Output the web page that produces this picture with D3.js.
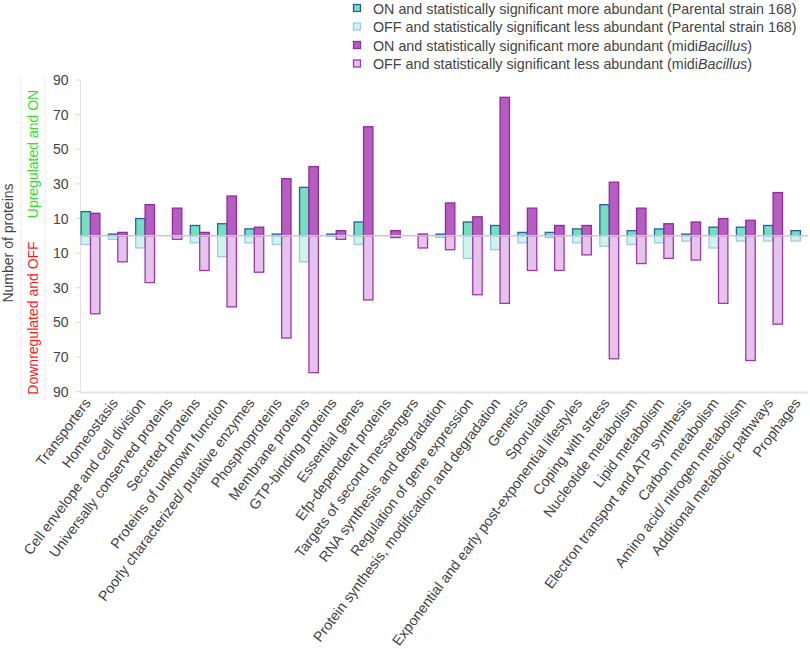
<!DOCTYPE html>
<html><head><meta charset="utf-8">
<script src="https://cdn.jsdelivr.net/npm/d3@7"></script>
<style>body{margin:0;background:#fff;} svg{display:block;font-family:"Liberation Sans",Arial,sans-serif;}</style>
</head><body>
<svg id="c" width="810" height="649"></svg>
<script>
const categories = ["Transporters","Homeostasis","Cell envelope and cell division","Universally conserved proteins","Secreted proteins","Proteins of unknown function","Poorly characterized/ putative enzymes","Phosphoproteins","Membrane proteins","GTP-binding proteins","Essential genes","Efp-dependent proteins","Targets of second messengers","RNA synthesis and degradation","Regulation of gene expression","Protein synthesis, modification and degradation","Genetics","Sporulation","Exponential and early post-exponential lifestyles","Coping with stress","Nucleotide metabolism","Lipid metabolism","Electron transport and ATP synthesis","Carbon metabolism","Amino acid/ nitrogen metabolism","Additional metabolic pathways","Prophages"];
const onParental  = [14,1,10,0,6,7,4,1,28,1,8,0,0,1,8,6,2,2,4,18,3,4,1,5,5,6,3];
const offParental = [5,2,7,0,4,12,4,5,15,0,5,0,0,1,13,8,4,1,4,6,5,4,3,7,3,3,3];
const onMidi      = [13,2,18,16,2,23,5,33,40,3,63,3,1,19,11,80,16,6,6,31,16,7,8,10,9,25,0];
const offMidi     = [45,15,27,2,20,41,21,59,79,2,37,1,7,8,34,39,20,20,11,71,16,13,14,39,72,51,0];
const yTicks = [-90,-70,-50,-30,-10,10,30,50,70,90];
const legendLabels = [
  ["ON and statistically significant more abundant (Parental strain 168)", null],
  ["OFF and statistically significant less abundant (Parental strain 168)", null],
  ["ON and statistically significant more abundant (midi", "Bacillus"],
  ["OFF and statistically significant less abundant (midi", "Bacillus"]
];

const svg = d3.select("#c");
const y = d3.scaleLinear().domain([-90,90]).range([391.7,80]);
const x = d3.scalePoint().domain(categories).range([90.5,800.4]);
const bw = 9.4;
const styles = {
  onP:{fill:"#72dfbf",stroke:"#2b5ca8"},
  offP:{fill:"#cdf6e8",stroke:"#a2c6f3"},
  onM:{fill:"#b55dc1",stroke:"#952a9c"},
  offM:{fill:"#e5c4ec",stroke:"#a236ab"}
};

// faint guide lines
[21,45].forEach(xx=>svg.append("line").attr("x1",xx).attr("x2",xx).attr("y1",76).attr("y2",400).attr("stroke","#ececec").attr("stroke-width",1));

// left axis line
svg.append("line").attr("x1",80.5).attr("x2",80.5).attr("y1",80).attr("y2",392).attr("stroke","#e2e2e2").attr("stroke-width",1);
// y ticks
const yg = svg.append("g");
yTicks.forEach(t=>{
  yg.append("line").attr("x1",76).attr("x2",80.5).attr("y1",y(t)).attr("y2",y(t)).attr("stroke","#d8d8d8");
  yg.append("text").attr("x",68.5).attr("y",y(t)).attr("dy","0.36em").attr("text-anchor","end")
    .attr("font-size",14).attr("fill","#444").text(Math.abs(t));
});
// bottom axis
svg.append("line").attr("x1",80).attr("x2",808).attr("y1",392.5).attr("y2",392.5).attr("stroke","#e4e4e4").attr("stroke-width",2);

// y label
svg.append("text").attr("transform","translate(13,243) rotate(-90)").attr("text-anchor","middle")
  .attr("font-size",14).attr("fill","#444").text("Number of proteins");
svg.append("text").attr("transform","translate(38,154) rotate(-90)").attr("text-anchor","middle")
  .attr("font-size",14).attr("fill","#2fe02f").text("Upregulated and ON");
svg.append("text").attr("transform","translate(38,318) rotate(-90)").attr("text-anchor","middle")
  .attr("font-size",14).attr("fill","#ff1a1a").text("Downregulated and OFF");

function bars(vals, key, dx, down){
  svg.append("g").selectAll("rect").data(categories).join("rect")
    .filter((d,i)=>vals[i]>0)
    .attr("x",d=>x(d)+dx)
    .attr("width",bw)
    .attr("y",(d)=>{const v=vals[categories.indexOf(d)]; return down? y(0): y(v);})
    .attr("height",(d)=>{const v=vals[categories.indexOf(d)]; return Math.abs(y(v)-y(0));})
    .attr("fill",styles[key].fill).attr("stroke",styles[key].stroke).attr("stroke-width",1.3);
}
bars(onParental,"onP",-bw,false);
bars(offParental,"offP",-bw,true);
bars(onMidi,"onM",0,false);
bars(offMidi,"offM",0,true);

// zero line
svg.append("line").attr("x1",80).attr("x2",808).attr("y1",y(0)).attr("y2",y(0)).attr("stroke","#c9c9c9").attr("stroke-width",1.5);

// x labels
svg.append("g").selectAll("text").data(categories).join("text")
  .attr("transform",d=>`translate(${x(d)-3},${400}) rotate(-53)`)
  .attr("text-anchor","end").attr("font-size",14.3).attr("fill","#444")
  .attr("dy","0.35em").text(d=>d);

// legend
const keys=["onP","offP","onM","offM"];
const lg = svg.append("g");
legendLabels.forEach((l,i)=>{
  const yy = 8.5 + i*18.5;
  lg.append("rect").attr("x",353.5).attr("y",yy-4).attr("width",7).attr("height",7)
    .attr("fill",styles[keys[i]].fill).attr("stroke",styles[keys[i]].stroke).attr("stroke-width",1.3);
  const t = lg.append("text").attr("x",373).attr("y",yy).attr("dy","0.35em").attr("font-size",14.3).attr("fill","#444");
  t.append("tspan").text(l[0]);
  if(l[1]){ t.append("tspan").attr("font-style","italic").text(l[1]); t.append("tspan").text(")"); }
});
</script>
</body></html>
